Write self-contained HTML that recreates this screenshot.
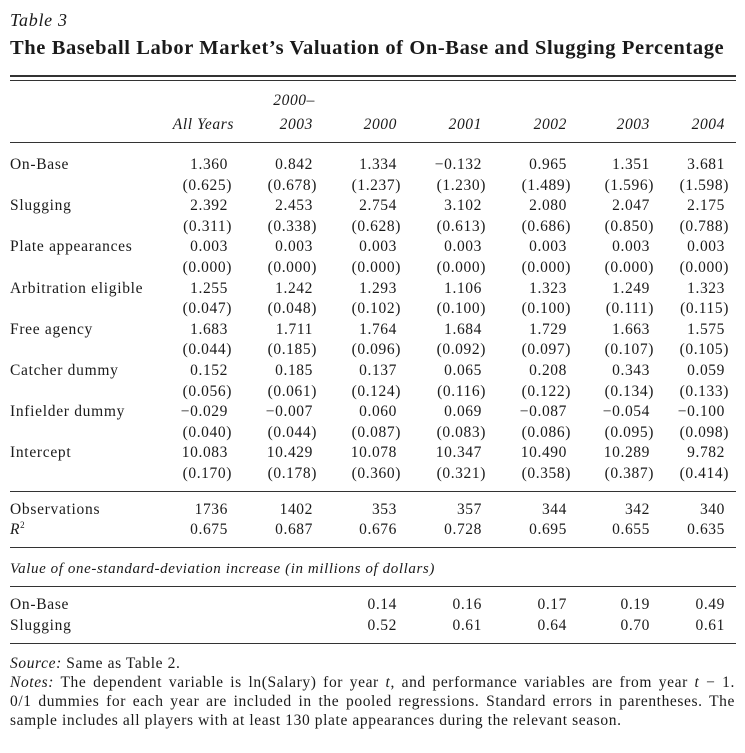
<!DOCTYPE html>
<html><head><meta charset="utf-8"><style>
body{margin:0;background:#fff;}
#page{position:relative;width:745px;height:753px;overflow:hidden;font-family:"Liberation Serif",serif;color:#1a1a1a;}
.t{position:absolute;white-space:nowrap;font-size:15.5px;line-height:18px;letter-spacing:0.7px;}
.n{position:absolute;white-space:nowrap;font-size:15.5px;line-height:18px;text-align:right;letter-spacing:0.6px;}
.rule{position:absolute;left:10px;width:726px;background:#333;}
.it{font-style:italic;}
.note{position:absolute;left:10px;width:725px;font-size:15.5px;line-height:19px;white-space:nowrap;text-align:justify;text-align-last:justify;letter-spacing:0.6px;}
</style></head><body>
<div id="page">
<div class="t it" style="left:10px;top:9px;font-size:18px;line-height:22px">Table 3</div>
<div class="t" style="left:10px;top:36px;font-size:20.5px;line-height:24px;font-weight:bold;letter-spacing:0.6px">The Baseball Labor Market’s Valuation of On-Base and Slugging Percentage</div>
<div class="rule" style="top:75px;height:2px"></div>
<div class="rule" style="top:80px;height:1px"></div>
<div class="rule" style="top:142px;height:1px"></div>
<div class="rule" style="top:491px;height:1px"></div>
<div class="rule" style="top:547px;height:1px"></div>
<div class="rule" style="top:586px;height:1px"></div>
<div class="rule" style="top:643px;height:1px"></div>
<div class="t it" style="left:10px;top:560px;font-size:15px;letter-spacing:0.6px">Value of one-standard-deviation increase (in millions of dollars)</div>
<div class="note" style="top:654px;text-align-last:left"><i>Source:</i> Same as Table 2.</div>
<div class="note" style="top:673px"><i>Notes:</i> The dependent variable is ln(Salary) for year <i>t</i>, and performance variables are from year <i>t</i> − 1.</div>
<div class="note" style="top:692px">0/1 dummies for each year are included in the pooled regressions. Standard errors in parentheses. The</div>
<div class="note" style="top:711px;text-align-last:left">sample includes all players with at least 130 plate appearances during the relevant season.</div>
</div>
<script>
const colHeaders=["All Years","2000–2003","2000","2001","2002","2003","2004"];
const rowLabels=["On-Base","Slugging","Plate appearances","Arbitration eligible","Free agency","Catcher dummy","Infielder dummy","Intercept"];
const coefs=[
["1.360","0.842","1.334","−0.132","0.965","1.351","3.681"],
["2.392","2.453","2.754","3.102","2.080","2.047","2.175"],
["0.003","0.003","0.003","0.003","0.003","0.003","0.003"],
["1.255","1.242","1.293","1.106","1.323","1.249","1.323"],
["1.683","1.711","1.764","1.684","1.729","1.663","1.575"],
["0.152","0.185","0.137","0.065","0.208","0.343","0.059"],
["−0.029","−0.007","0.060","0.069","−0.087","−0.054","−0.100"],
["10.083","10.429","10.078","10.347","10.490","10.289","9.782"]];
const stderrs=[
["0.625","0.678","1.237","1.230","1.489","1.596","1.598"],
["0.311","0.338","0.628","0.613","0.686","0.850","0.788"],
["0.000","0.000","0.000","0.000","0.000","0.000","0.000"],
["0.047","0.048","0.102","0.100","0.100","0.111","0.115"],
["0.044","0.185","0.096","0.092","0.097","0.107","0.105"],
["0.056","0.061","0.124","0.116","0.122","0.134","0.133"],
["0.040","0.044","0.087","0.083","0.086","0.095","0.098"],
["0.170","0.178","0.360","0.321","0.358","0.387","0.414"]];
const observations=["1736","1402","353","357","344","342","340"];
const rsquared=["0.675","0.687","0.676","0.728","0.695","0.655","0.635"];
const onBaseValue=["","","0.14","0.16","0.17","0.19","0.49"];
const sluggingValue=["","","0.52","0.61","0.64","0.70","0.61"];
const page=document.getElementById('page');
const colRight=[228,313,397,482,567,650,725];
function put(cls,text,x,yc,right,name){
  const d=document.createElement('div');
  d.className=cls;
  d.innerHTML=text;
  if(right){d.style.right=(745-x)+'px';}else{d.style.left=x+'px';}
  d.style.top=(yc-9)+'px';
  
  
  page.appendChild(d);
  return d;
}
colHeaders.forEach((h,i)=>{
  if(h.indexOf('–')>0){
    const p=h.split('–');
    put('n it',p[0]+'–',colRight[i]+2,101,true,'column-header');
    put('n it',p[1],colRight[i],125,true,'column-header');
  } else put('n it',h,colRight[i]+(i===0?6:0),125,true,'column-header');
});
const y0=165, step=20.6;
rowLabels.forEach((lab,r)=>{
  const yc=y0+r*2*step;
  put('t',lab,10,yc,false,'row-label');
  coefs[r].forEach((v,c)=>put('n',v,colRight[c],yc,true,'coefficient-cell'));
  stderrs[r].forEach((v,c)=>put('n','('+v+')',colRight[c]+4,yc+step,true,'std-error-cell'));
});
put('t','Observations',10,510,false,'row-label');
put('t','<i>R</i><sup style="font-size:9px;line-height:0">2</sup>',10,530,false,'row-label');
observations.forEach((v,c)=>put('n',v,colRight[c],510,true,'observations-cell'));
rsquared.forEach((v,c)=>put('n',v,colRight[c],530,true,'r-squared-cell'));
put('t','On-Base',10,605,false,'row-label');
put('t','Slugging',10,626,false,'row-label');
onBaseValue.forEach((v,c)=>{if(v)put('n',v,colRight[c],605,true,'onbase-value-cell');});
sluggingValue.forEach((v,c)=>{if(v)put('n',v,colRight[c],626,true,'slugging-value-cell');});
</script>
</body></html>
